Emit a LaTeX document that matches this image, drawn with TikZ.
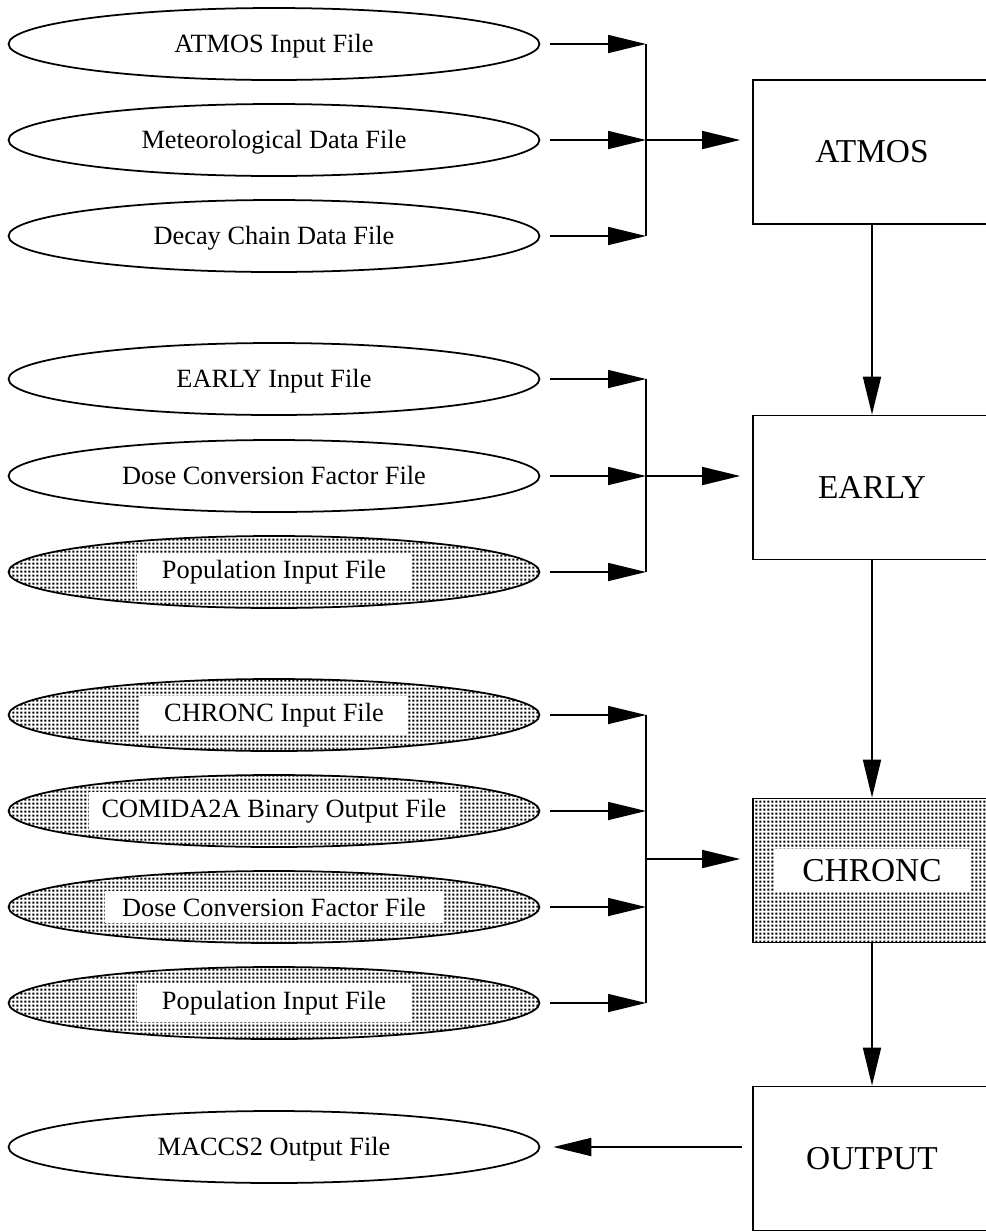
\documentclass[tikz,border=0pt]{standalone}
\usepackage{fontspec}
\setmainfont{Liberation Serif}
\usetikzlibrary{shapes.geometric,arrows.meta,patterns}
\pgfdeclarepatternformonly{mydots}{\pgfqpoint{0pt}{0pt}}{\pgfqpoint{2.35pt}{2.35pt}}{\pgfqpoint{2.35pt}{2.35pt}}{%
  \pgfpathrectangle{\pgfqpoint{0.3pt}{0.3pt}}{\pgfqpoint{1.35pt}{1.35pt}}\pgfusepath{fill}}
\newcommand{\wlabel}[2]{\makebox[0pt]{\colorbox{white}{\hspace{#1}#2\hspace{#1}}}}
\begin{document}
\begin{tikzpicture}[x=0.02cm,y=-0.02cm,
  line width=1pt,
  basefile/.style={ellipse, draw, minimum width=10.62cm, minimum height=1.44cm, inner sep=0pt,
    font=\fontsize{15}{17}\selectfont},
  file/.style={basefile, text height=0.92em, text depth=0pt},
  shfile/.style={basefile, pattern=mydots},
  proc/.style={rectangle, draw, minimum width=4.76cm, minimum height=2.88cm, inner sep=0pt,
    font=\fontsize{19}{22}\selectfont},
  shproc/.style={proc, pattern=mydots},
  arr/.style={-{Triangle[length=0.76cm,width=0.36cm]}}]
\useasboundingbox (0,0) rectangle (986,1232);
\clip (0,0) rectangle (986,1232);
\setlength{\fboxsep}{4pt}
% group 1
\node[file] (e1) at (274,44) {ATMOS Input File};
\node[file] (e2) at (274,140) {Meteorological Data File};
\node[file] (e3) at (274,236) {Decay Chain Data File};
% group 2
\node[file] (e4) at (274,379) {EARLY Input File};
\node[file] (e5) at (274,476) {Dose Conversion Factor File};
\node[shfile] (e6) at (274,572) {\wlabel{10pt}{Population Input File}};
% group 3
\node[shfile] (e7) at (274,715) {\wlabel{10pt}{CHRONC Input File}};
\node[shfile] (e8) at (274,811) {\wlabel{3pt}{COMIDA2A Binary Output File}};
\node[shfile] (e9) at (274,907) {\wlabel{6pt}{Dose Conversion Factor File}};
\node[shfile] (e10) at (274,1003) {\wlabel{10pt}{Population Input File}};
% output file
\node[file] (e11) at (274,1147) {MACCS2 Output File};
% processes
\node[proc] (atmos) at (872,152) {ATMOS};
\node[proc] (early) at (872,487.5) {EARLY};
\node[shproc] (chronc) at (872,870.5) {\setlength{\fboxsep}{6pt}\colorbox{white}{\hspace{10pt}CHRONC\hspace{10pt}}};
\node[proc] (output) at (872,1158.5) {OUTPUT};
% bar coordinates
\coordinate (b1) at (646,44);
\coordinate (b2) at (646,140);
\coordinate (b3) at (646,236);
\coordinate (b4) at (646,379);
\coordinate (b5) at (646,476);
\coordinate (b6) at (646,572);
\coordinate (b7) at (646,715);
\coordinate (b8) at (646,811);
\coordinate (b9) at (646,907);
\coordinate (b10) at (646,1003);
\coordinate (bc) at (646,859);
% input arrows
\foreach \i in {1,...,10}{
  \draw[arr] ([xshift=0.2cm]e\i.east) -- (b\i);
}
% bars
\draw (b1) -- (b3);
\draw (b4) -- (b6);
\draw (b7) -- (b10);
% bar to process
\draw[arr] (b2) -- ([xshift=-0.24cm]atmos.west |- b2);
\draw[arr] (b5) -- ([xshift=-0.24cm]early.west |- b5);
\draw[arr] (bc) -- ([xshift=-0.24cm]chronc.west |- bc);
% process chain
\draw[arr] (atmos.south) -- (early.north);
\draw[arr] (early.south) -- (chronc.north);
\draw[arr] (chronc.south) -- (output.north);
% output
\draw[arr] ([xshift=-0.2cm]output.west |- e11.east) -- ([xshift=0.26cm]e11.east);
\end{tikzpicture}
\end{document}
